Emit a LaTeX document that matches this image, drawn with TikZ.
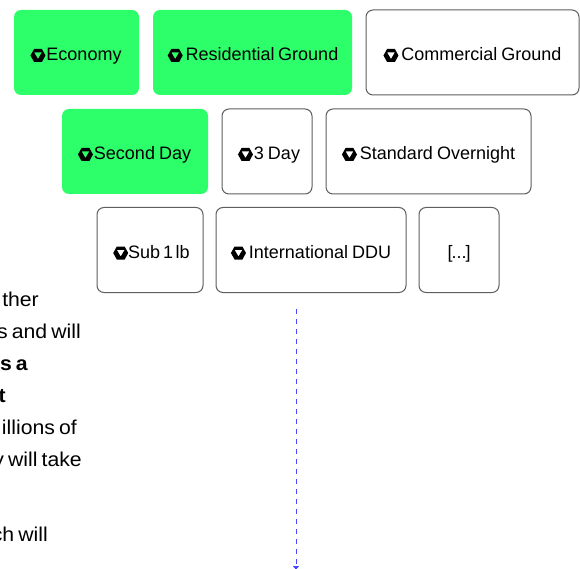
\documentclass[tikz,border=0pt]{standalone}
\usepackage{fontspec}
\setmainfont{Liberation Sans}[WordSpace=0.8]
\newfontfamily\parafont{Liberation Sans}[FakeStretch=1.06,WordSpace=0.7]
\usetikzlibrary{arrows.meta}
\definecolor{bright}{HTML}{2DFF6B}
\definecolor{edge}{HTML}{5E5E5E}
\definecolor{flow}{HTML}{4747FF}
\newcommand{\shipicon}{\tikz[baseline=0pt,x=1pt,y=1pt,sharp corners]{\fill[black,even odd rule,sharp corners] (3.6,-1)--(11.4,-1)--(15,5.5)--(11.4,12)--(3.6,12)--(0,5.5)--cycle (3.6,8.6)--(11.4,8.6)--(7.5,2)--cycle;}}
\tikzset{
 box/.style={draw=edge,line width=1pt,rounded corners=7pt,minimum height=85pt,inner sep=0pt,align=center,text height=18pt,text depth=1pt,font=\fontsize{18}{20}\selectfont,text=black},
 on/.style={box,fill=bright,draw=none},
 off/.style={box,fill=white},
 para/.style={anchor=base east,inner sep=0pt,font=\parafont\fontsize{20}{24}\selectfont,text=black},
 parab/.style={para,font=\parafont\fontsize{20}{24}\selectfont\bfseries},
 flowline/.style={draw=flow,line width=1pt,dash pattern=on 5pt off 5pt,-{Latex[length=4pt,width=7pt]}}
}
\begin{document}
\begin{tikzpicture}[x=1pt,y=-1pt]
\useasboundingbox (0,0) rectangle (580,569);
\clip (0,0) rectangle (580,569);
\node[on,minimum width=125pt] (economy) at (76.5,52.5) {\hspace{-1pt}\shipicon\hspace{1pt}Economy};
\node[on,minimum width=199pt] (residential) at (252.5,52.5) {\hspace{1pt}\shipicon\hspace{3pt}Residential\hspace{-0.5pt} Ground};
\node[off,minimum width=213pt] (commercial) at (472.5,52.5) {\shipicon\hspace{3pt}Commercial Ground};
\node[on,minimum width=146pt] (second) at (135,151.5) {\hspace{-1pt}\shipicon\hspace{1pt}Second Day};
\node[off,minimum width=90pt] (three) at (267,151.5) {\hspace{4pt}\shipicon\hspace{1pt}3 Day};
\node[off,minimum width=205pt] (standard) at (428.5,151.5) {\shipicon\hspace{3pt}Standard Overnight};
\node[off,minimum width=106pt] (sub) at (150,250) {\hspace{3pt}\shipicon\hspace{0pt}Sub\hspace{-1pt} 1\hspace{-1.5pt} lb};
\node[off,minimum width=190pt] (ddu) at (311,250) {\shipicon\hspace{3pt}International DDU};
\node[off,minimum width=80pt] (more) at (459,250) {[\hspace{-1pt}...\hspace{-1pt}]};
\node[para] (l1) at (39,306) {ther};
\node[para] (l2) at (81,338) {s and will};
\node[parab] (l3) at (28,370) {s a};
\node[parab] (l4) at (6,402) {t};
\node[para] (l5) at (77,434) {illions of};
\node[para] (l6) at (82,466) {y will take};
\node[para] (l7) at (48,541) {ch will};
\coordinate (flowstart) at (296,309);
\coordinate (flowend) at (296,570);
\draw[flowline] (flowstart) -- (flowend);
\end{tikzpicture}
\end{document}
